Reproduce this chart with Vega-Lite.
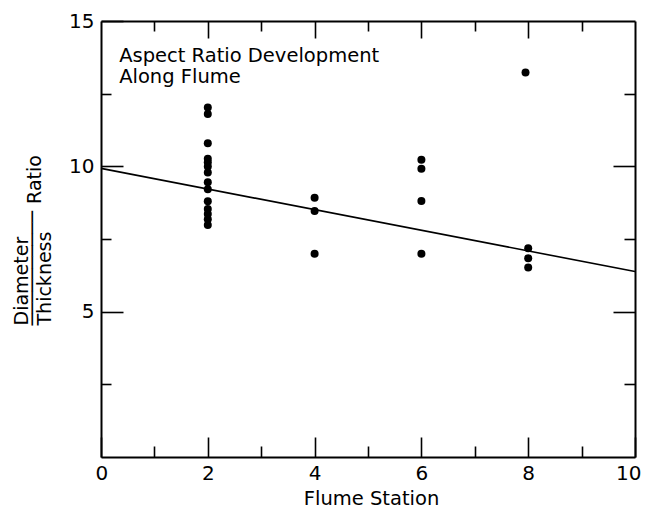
{
  "$schema": "https://vega.github.io/schema/vega-lite/v6.json",
  "autosize": "none",
  "padding": {"left": 101, "top": 21, "right": 10, "bottom": 51},
  "width": 534,
  "height": 436,
  "background": "white",
  "config": {
    "view": {"stroke": null},
    "font": "DejaVu Sans",
    "axis": {
      "grid": false,
      "domainColor": "black",
      "domainWidth": 2,
      "tickColor": "black",
      "tickWidth": 1.6,
      "labelColor": "black",
      "titleColor": "black",
      "labelFont": "DejaVu Sans",
      "titleFont": "DejaVu Sans",
      "labelFontSize": 20,
      "titleFontSize": 19,
      "titleFontWeight": "normal"
    }
  },
  "resolve": {"axis": {"x": "independent", "y": "independent"}},
  "layer": [
    {
      "data": {"values": [
        {"station": 2, "ratio": 12.02},
        {"station": 2, "ratio": 11.8},
        {"station": 2, "ratio": 10.79},
        {"station": 2, "ratio": 10.26},
        {"station": 2, "ratio": 10.14},
        {"station": 2, "ratio": 9.99},
        {"station": 2, "ratio": 9.79},
        {"station": 2, "ratio": 9.45},
        {"station": 2, "ratio": 9.21},
        {"station": 2, "ratio": 8.8},
        {"station": 2, "ratio": 8.53},
        {"station": 2, "ratio": 8.36},
        {"station": 2, "ratio": 8.18},
        {"station": 2, "ratio": 7.98},
        {"station": 4, "ratio": 8.92},
        {"station": 4, "ratio": 8.46},
        {"station": 4, "ratio": 6.99},
        {"station": 6, "ratio": 10.23},
        {"station": 6, "ratio": 9.92},
        {"station": 6, "ratio": 8.81},
        {"station": 6, "ratio": 6.99},
        {"station": 7.95, "ratio": 13.23},
        {"station": 8, "ratio": 7.18},
        {"station": 8, "ratio": 6.84},
        {"station": 8, "ratio": 6.52}
      ]},
      "mark": {"type": "point", "filled": true, "color": "black", "opacity": 1, "size": 64},
      "encoding": {
        "x": {
          "field": "station", "type": "quantitative",
          "scale": {"domain": [0, 10], "nice": false, "zero": false},
          "axis": {
            "orient": "bottom",
            "values": [0, 1, 2, 3, 4, 5, 6, 7, 8, 9, 10],
            "tickSize": {"condition": {"test": "datum.value % 2 === 0", "value": -20}, "value": -11},
            "labelExpr": "datum.value % 2 === 0 ? datum.label : ''",
            "labelPadding": 26,
            "labelFlush": true,
            "labelFlushOffset": 6,
            "title": "Flume Station",
            "titleFontSize": 19.5,
            "titleX": 270,
            "titleY": 47,
            "titleBaseline": "alphabetic",
            "titleAlign": "center"
          }
        },
        "y": {
          "field": "ratio", "type": "quantitative",
          "scale": {"domain": [0, 15], "nice": false, "zero": true},
          "axis": {
            "orient": "left",
            "values": [2.5, 5, 7.5, 10, 12.5, 15],
            "tickSize": {"condition": {"test": "datum.value % 5 === 0", "value": -22}, "value": -10},
            "labelExpr": "datum.value % 5 === 0 ? datum.label : ''",
            "labelPadding": 29,
            "labelFlush": false,
            "title": ["Diameter", "──────────", "Thickness"],
            "titleAngle": 270,
            "titleAlign": "left",
            "titleBaseline": "alphabetic",
            "titleLineHeight": 11.5,
            "titleX": -74,
            "titleY": 304
          }
        }
      }
    },
    {
      "data": {"values": [
        {"station": 0, "fit": 9.93},
        {"station": 10, "fit": 6.38}
      ]},
      "mark": {"type": "line", "color": "black", "strokeWidth": 1.6},
      "encoding": {
        "x": {
          "field": "station", "type": "quantitative",
          "axis": {
            "orient": "top",
            "values": [1, 2, 3, 4, 5, 6, 7, 8, 9],
            "tickSize": {"condition": {"test": "datum.value % 2 === 0", "value": -17}, "value": -10},
            "labels": false,
            "title": null
          }
        },
        "y": {
          "field": "fit", "type": "quantitative",
          "axis": {
            "orient": "right",
            "values": [2.5, 5, 7.5, 10, 12.5],
            "tickSize": {"condition": {"test": "datum.value % 5 === 0", "value": -22}, "value": -11},
            "labels": false,
            "title": "Ratio",
            "titleAngle": 270,
            "titleAlign": "center",
            "titleBaseline": "alphabetic",
            "titleX": -595,
            "titleY": 158
          }
        }
      }
    },
    {
      "data": {"values": [
        {"x": 0.34, "y": 13.59, "label": "Aspect Ratio Development"},
        {"x": 0.34, "y": 12.87, "label": "Along Flume"}
      ]},
      "mark": {"type": "text", "align": "left", "baseline": "alphabetic", "fontSize": 19.5, "color": "black", "font": "DejaVu Sans"},
      "encoding": {
        "x": {"field": "x", "type": "quantitative", "axis": null},
        "y": {"field": "y", "type": "quantitative", "axis": null},
        "text": {"field": "label", "type": "nominal"}
      }
    }
  ]
}
